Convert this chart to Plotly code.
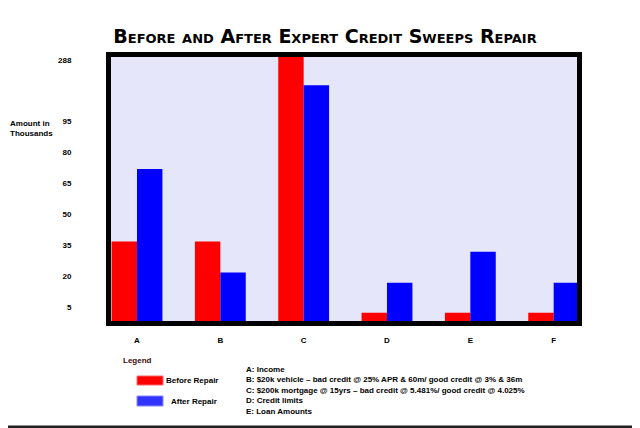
import plotly.graph_objects as go

# categories and values (axis units in thousands)
categories = ["A", "B", "C", "D", "E", "F"]
before_repair = [38.5, 38.5, 288, 4, 4, 4]
after_repair = [73.5, 23.5, 114, 18.5, 33.5, 18.5]

tick_vals = [5, 20, 35, 50, 65, 80, 95, 124.8]
tick_text = ["5", "20", "35", "50", "65", "80", "95", "288"]

notes = [
    "A: Income",
    "B: $20k vehicle \u2013 bad credit @ 25% APR & 60m/ good credit @ 3% & 36m",
    "C: $200k mortgage @ 15yrs \u2013 bad credit @ 5.481%/ good credit @ 4.025%",
    "D: Credit limits",
    "E: Loan Amounts",
]

# the page body has an 8px margin, so the figure sits 8px in from the corner
OFF = 8
W, H = 640, 428
L, R, T, B = 111, 577, 57, 321  # inner plot area in screen pixels


def px_x(px):
    return (px - L) / (R - L)


def px_y(py):
    return (B - py) / (B - T)


txt = dict(family="Liberation Sans, Arial", size=8, color="black", weight="bold")

fig = go.Figure()
fig.add_trace(go.Bar(x=categories, y=before_repair, name="Before Repair",
                     marker=dict(color="#ff0000", line=dict(width=0))))
fig.add_trace(go.Bar(x=categories, y=after_repair, name="After Repair",
                     marker=dict(color="#0000ff", line=dict(width=0))))

fig.update_layout(
    width=W, height=H,
    margin=dict(l=L - OFF, r=W - R + OFF, t=T - OFF, b=H - B + OFF, pad=0),
    paper_bgcolor="white",
    plot_bgcolor="#e6e6fa",
    showlegend=False,
    barmode="group",
    bargap=0.39,
    bargroupgap=0,
    title=dict(text="Before and After Expert Credit Sweeps Repair",
               font=dict(family="DejaVu Sans", size=19, color="black",
                         weight="bold", variant="small-caps"),
               x=px_x(325), xref="paper", xanchor="center",
               y=1 - (36 - OFF) / H, yref="container", yanchor="middle"),
)

fig.update_xaxes(
    range=[-0.312, 5.28], showgrid=False, zeroline=False,
    showline=True, mirror=True, linewidth=5, linecolor="black",
    ticks="outside", ticklen=7, tickcolor="rgba(0,0,0,0)",
    tickfont=txt,
)
fig.update_yaxes(
    range=[0, (B - T) / 2.067], showgrid=False, zeroline=False,
    showline=True, mirror=True, linewidth=5, linecolor="black",
    tickmode="array", tickvals=tick_vals, ticktext=tick_text,
    ticks="outside", ticklen=33, tickcolor="rgba(0,0,0,0)",
    ticklabelshift=-3, tickfont=txt,
)

# y axis caption
fig.add_annotation(text="Amount in<br>Thousands", xref="paper", yref="paper",
                   x=px_x(8), y=px_y(128), xanchor="left", yanchor="middle",
                   align="left", showarrow=False, font=txt)

# hand-drawn legend below the chart
fig.add_annotation(text="Legend", xref="paper", yref="paper",
                   x=px_x(121), y=px_y(360), xanchor="left", yanchor="middle",
                   showarrow=False, font=dict(txt, color="#3a0a0a"))
fig.add_shape(type="rect", xref="paper", yref="paper",
              x0=px_x(137), x1=px_x(163), y0=px_y(376), y1=px_y(385),
              fillcolor="#ff0000", line=dict(color="#ff6666", width=1))
fig.add_annotation(text="Before Repair", xref="paper", yref="paper",
                   x=px_x(164), y=px_y(380.5), xanchor="left", yanchor="middle",
                   showarrow=False, font=txt)
fig.add_shape(type="rect", xref="paper", yref="paper",
              x0=px_x(137), x1=px_x(163), y0=px_y(396), y1=px_y(406),
              fillcolor="#3333ff", line=dict(color="#8888ff", width=1))
fig.add_annotation(text="After Repair", xref="paper", yref="paper",
                   x=px_x(169), y=px_y(401), xanchor="left", yanchor="middle",
                   showarrow=False, font=txt)

fig.add_annotation(text="<br>".join(notes), xref="paper", yref="paper",
                   x=px_x(244), y=px_y(390.5), xanchor="left", yanchor="middle",
                   align="left", showarrow=False, font=txt)

# page edges seen in the screenshot
fig.add_shape(type="line", xref="paper", yref="paper",
              x0=px_x(637.5), x1=px_x(637.5), y0=px_y(0), y1=px_y(425),
              line=dict(color="#c8c8c8", width=1))
fig.add_shape(type="line", xref="paper", yref="paper",
              x0=px_x(0), x1=px_x(640), y0=px_y(427), y1=px_y(427),
              line=dict(color="#202020", width=3))

fig.write_html("out.html")
